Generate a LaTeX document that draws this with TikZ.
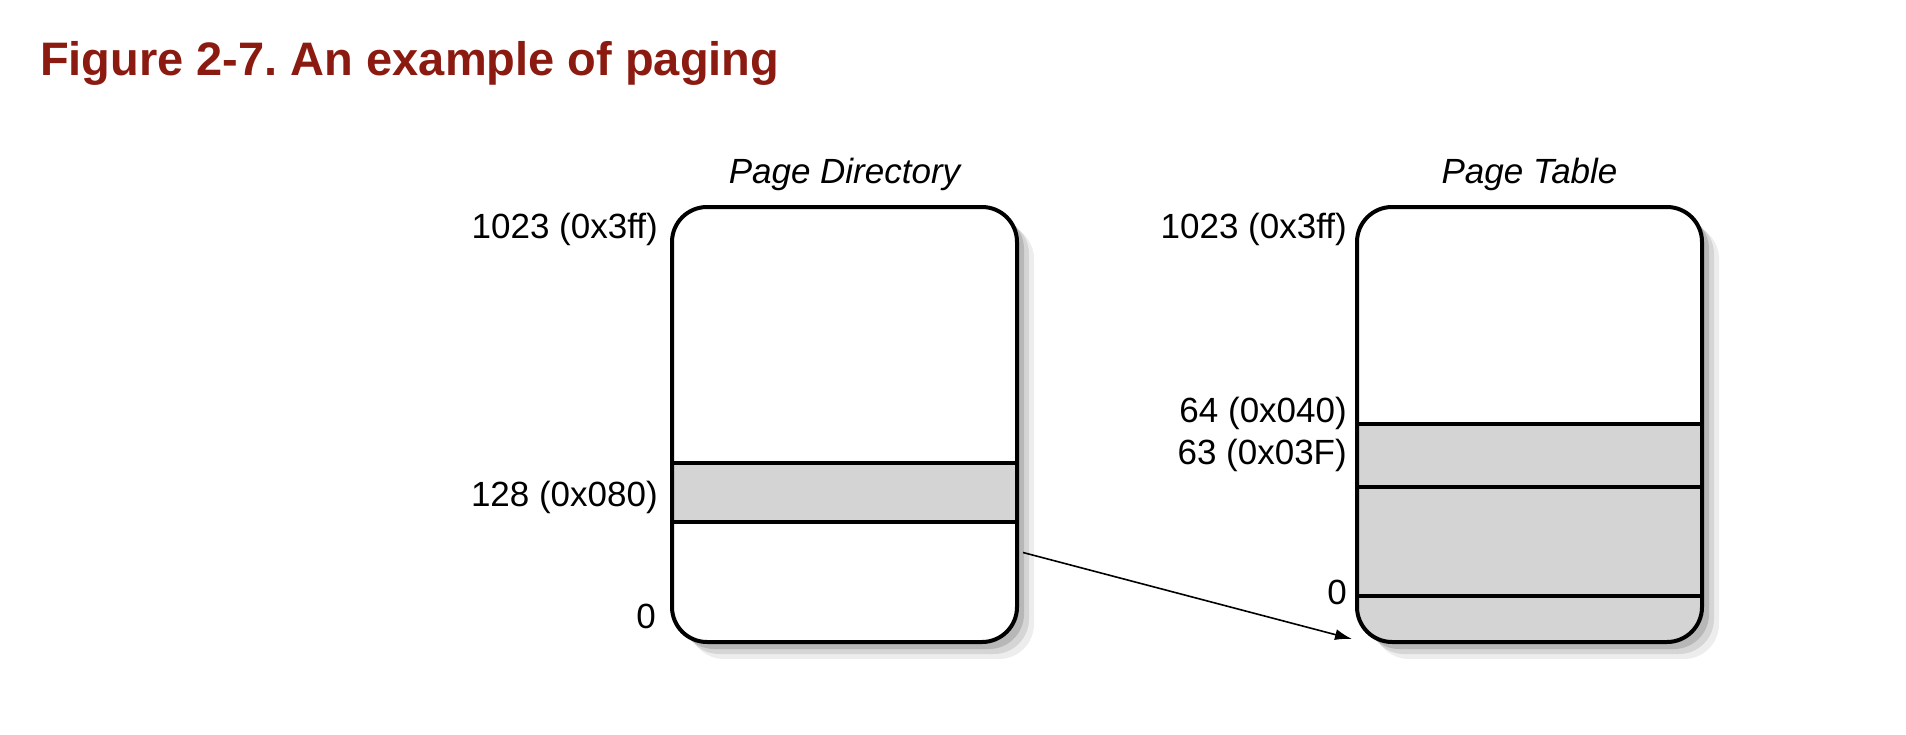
\documentclass[tikz,border=0pt]{standalone}
\usepackage{fontspec}
\setmainfont{Liberation Sans}
\usetikzlibrary{
arrows.meta,
calc,
positioning,
shadows
}
\definecolor{titlered}{RGB}{139,26,16}
\definecolor{cellgray}{RGB}{212,212,212}
\tikzset{>=latex}
\frenchspacing
% one row line / one shaded cell inside a table, offsets from the top edge
\newcommand{\tablerow}[1]{\draw[row] ([yshift=-#1pt]path picture bounding box.north west) -- ([yshift=-#1pt]path picture bounding box.north east);}
\newcommand{\tablecell}[2]{\fill[cell] ([yshift=-#1pt]path picture bounding box.north west) rectangle ([yshift=-#2pt]path picture bounding box.north east);}

\begin{document}
\begin{tikzpicture}[x=1pt, y=-1pt, node distance=14pt, font=\fontsize{35}{42}\selectfont,
	table/.style={
		draw,
		line width=4pt,
		rounded corners=35pt,
		fill=white,
		minimum width=345pt,
		minimum height=435pt,
		drop shadow={shadow xshift=17pt, shadow yshift=-17pt, fill=black, opacity=0.07},
		drop shadow={shadow xshift=12pt, shadow yshift=-12pt, fill=black, opacity=0.10},
		drop shadow={shadow xshift=7pt, shadow yshift=-7pt, fill=black, opacity=0.14}
	},
	row/.style={line width=4pt, sharp corners},
	cell/.style={fill=cellgray, sharp corners},
	lbl/.style={inner sep=0pt, anchor=base east},
	heading/.style={inner sep=0pt, font=\fontsize{35}{42}\selectfont\itshape},
	ptr/.style={-{Latex[length=17pt,width=11pt]}, line width=1.6pt}]
	\useasboundingbox (0,0) rectangle (1906,734);

	\node[anchor=base west, inner sep=0pt, text=titlered, font=\fontsize{47}{56}\selectfont\bfseries] (caption) at (40,75) {Figure 2-7. An example of paging};

	\node[table, path picture={\tablecell{256}{315}\tablerow{256}\tablerow{315}}]                          (pagedir) at (844.5,424.5) {};
	\node[table, path picture={\tablecell{217}{440}\tablerow{217}\tablerow{280}\tablerow{389}}, right=336pt of pagedir] (pagetab) {};

	\node[heading, above=22pt of pagedir.north, anchor=base] (pdname) {Page Directory};
	\node[heading, above=22pt of pagetab.north, anchor=base] (ptname) {Page Table};

	\node[lbl] (pdtop)  at (658,238)  {1023 (0x3ff)};
	\node[lbl] (pdsel)  at (658,506)  {128 (0x080)};
	\node[lbl] (pdzero) at (656,628)  {0};
	\node[lbl] (pttop)  at (1347,238) {1023 (0x3ff)};
	\node[lbl] (pthigh) at (1347,422) {64 (0x040)};
	\node[lbl] (ptlow)  at (1347,464) {63 (0x03F)};
	\node[lbl] (ptzero) at (1347,604) {0};

	\coordinate (pdexit)  at ([xshift=4pt, yshift=-128pt]pagedir.east);
	\coordinate (ptentry) at ([xshift=-3pt, yshift=5pt]pagetab.south west);
	\draw[ptr] (pdexit) -- (ptentry);
\end{tikzpicture}
\end{document}
